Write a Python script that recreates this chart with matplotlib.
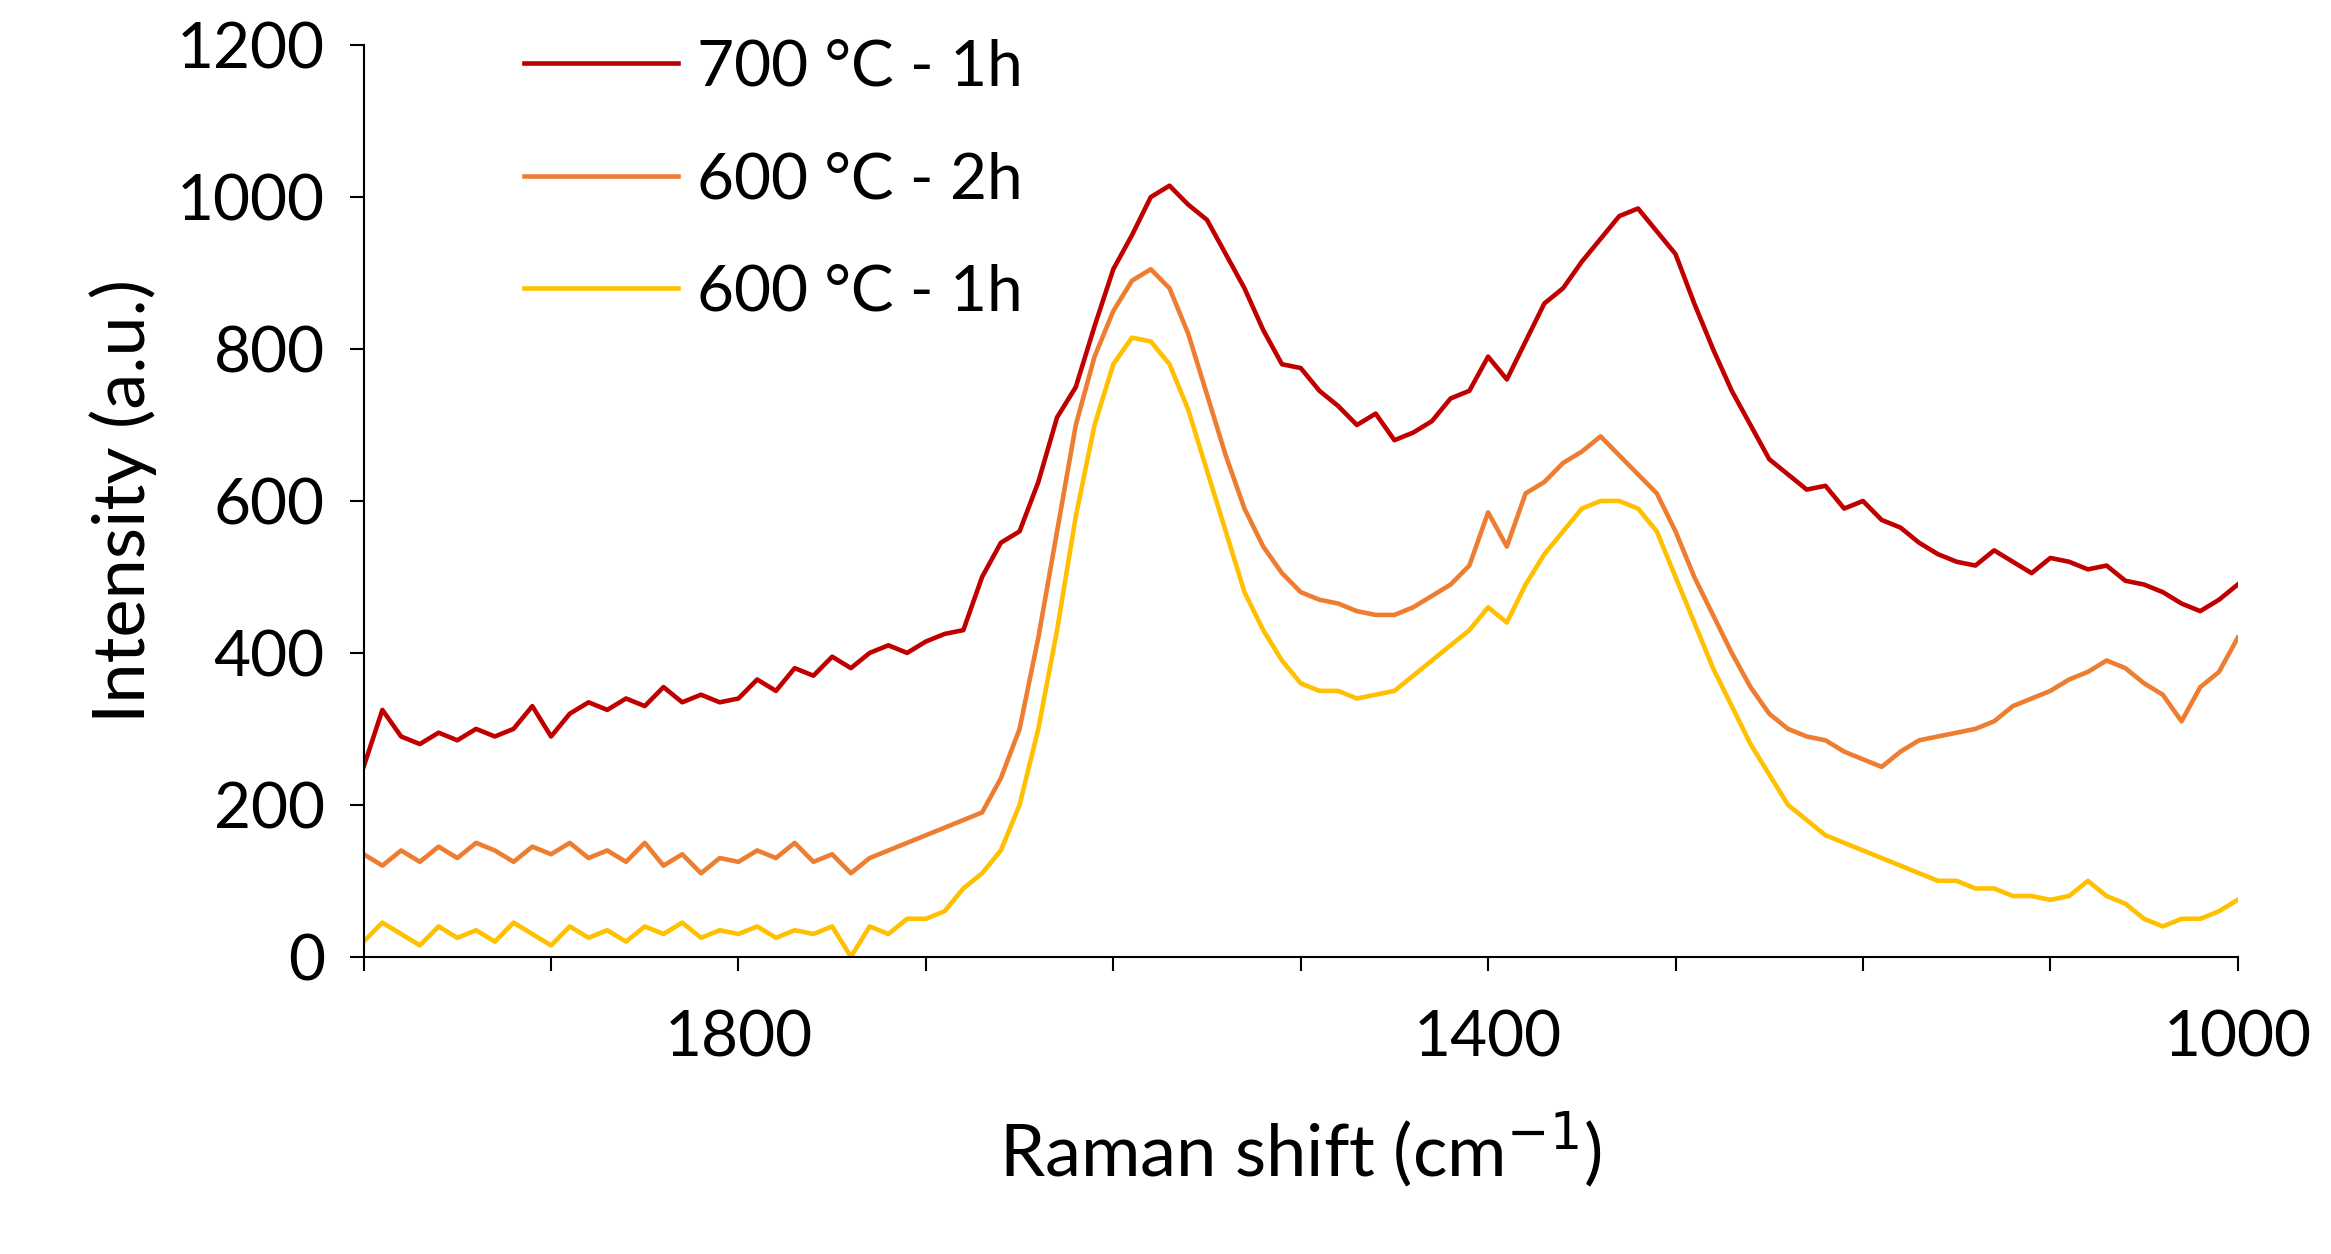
import numpy as np
import matplotlib.pyplot as plt
from matplotlib.ticker import MultipleLocator

plt.rcParams['font.family'] = ['Lato', 'DejaVu Sans']

shift = np.arange(2000, 999, -10)

# one row per 100 cm-1, from 2000 down to 1010, then the 1000 point
i700_1h = [250, 325, 290, 280, 295, 285, 300, 290, 300, 330,
           290, 320, 335, 325, 340, 330, 355, 335, 345, 335,
           340, 365, 350, 380, 370, 395, 380, 400, 410, 400,
           415, 425, 430, 500, 545, 560, 625, 710, 750, 830,
           905, 950, 1000, 1015, 990, 970, 925, 880, 825, 780,
           775, 745, 725, 700, 715, 680, 690, 705, 735, 745,
           790, 760, 810, 860, 880, 915, 945, 975, 985, 955,
           925, 860, 800, 745, 700, 655, 635, 615, 620, 590,
           600, 575, 565, 545, 530, 520, 515, 535, 520, 505,
           525, 520, 510, 515, 495, 490, 480, 465, 455, 470,
           490]

i600_2h = [135, 120, 140, 125, 145, 130, 150, 140, 125, 145,
           135, 150, 130, 140, 125, 150, 120, 135, 110, 130,
           125, 140, 130, 150, 125, 135, 110, 130, 140, 150,
           160, 170, 180, 190, 235, 300, 420, 560, 700, 790,
           850, 890, 905, 880, 820, 740, 660, 590, 540, 505,
           480, 470, 465, 455, 450, 450, 460, 475, 490, 515,
           585, 540, 610, 625, 650, 665, 685, 660, 635, 610,
           560, 500, 450, 400, 355, 320, 300, 290, 285, 270,
           260, 250, 270, 285, 290, 295, 300, 310, 330, 340,
           350, 365, 375, 390, 380, 360, 345, 310, 355, 375,
           420]

i600_1h = [20, 45, 30, 15, 40, 25, 35, 20, 45, 30,
           15, 40, 25, 35, 20, 40, 30, 45, 25, 35,
           30, 40, 25, 35, 30, 40, 0, 40, 30, 50,
           50, 60, 90, 110, 140, 200, 300, 430, 580, 700,
           780, 815, 810, 780, 720, 640, 560, 480, 430, 390,
           360, 350, 350, 340, 345, 350, 370, 390, 410, 430,
           460, 440, 490, 530, 560, 590, 600, 600, 590, 560,
           500, 440, 380, 330, 280, 240, 200, 180, 160, 150,
           140, 130, 120, 110, 100, 100, 90, 90, 80, 80,
           75, 80, 100, 80, 70, 50, 40, 50, 50, 60,
           75]

fig = plt.figure(figsize=(23.31, 12.54), dpi=100)
ax = fig.add_axes([0.156, 0.237, 0.804, 0.727])
ax.plot(shift, i700_1h, color='#C00000', lw=3.3, label='700 °C - 1h')
ax.plot(shift, i600_2h, color='#ED7D31', lw=3.3, label='600 °C - 2h')
ax.plot(shift, i600_1h, color='#FFC000', lw=3.3, label='600 °C - 1h')

ax.set_xlim(2000, 1000)
ax.set_ylim(0, 1200)
ax.xaxis.set_minor_locator(MultipleLocator(100))
ax.set_xticks([1800, 1400, 1000])
ax.yaxis.set_major_locator(MultipleLocator(200))
for s in ['top', 'right']:
    ax.spines[s].set_visible(False)
for s in ['left', 'bottom']:
    ax.spines[s].set_linewidth(1.5)
ax.tick_params(axis='both', labelsize=46, width=1.5, length=10)
ax.tick_params(axis='x', which='minor', width=1.5, length=10)
ax.tick_params(axis='x', which='major', pad=28)
ax.tick_params(axis='y', pad=18)
ax.set_xlabel('Raman shift (cm$^{-1}$)', fontsize=52, labelpad=30)
ax.set_ylabel('Intensity (a.u.)', fontsize=52, labelpad=14)
ax.legend(loc='upper left', bbox_to_anchor=(0.055, 1.07), frameon=False, fontsize=46,
          handlelength=2.4, handletextpad=0.3, labelspacing=0.85)

plt.savefig('out.png', dpi=100)
